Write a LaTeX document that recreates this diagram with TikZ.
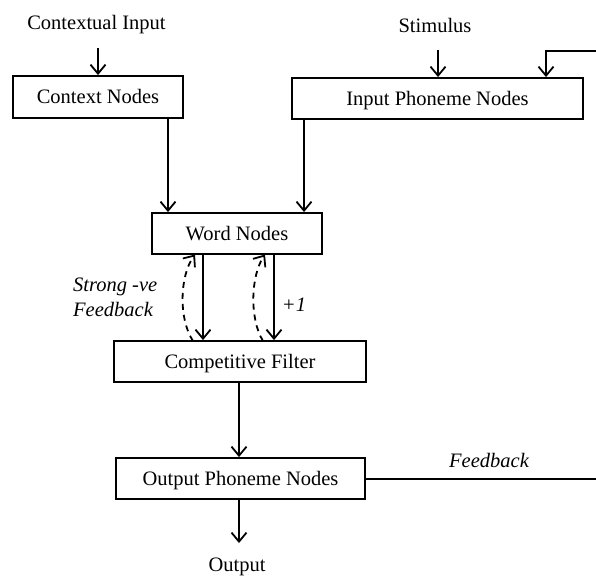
\documentclass[tikz,border=0pt]{standalone}
\usepackage{fontspec}
\setmainfont{Liberation Serif}
\usetikzlibrary{arrows.meta}
\begin{document}
\begin{tikzpicture}[x=1pt,y=-1pt,
  box/.style={draw, line width=1.9pt, inner sep=0pt, text height=14pt, text depth=1pt,
    font=\fontsize{20.5}{24}\selectfont},
  lbl/.style={inner sep=0pt, font=\fontsize{20.5}{25}\selectfont},
  ital/.style={inner sep=0pt, font=\fontsize{20.5}{25}\selectfont\itshape},
  arr/.style={line width=1.8pt, -{Straight Barb[length=9pt,width=15pt]}},
  fbarr/.style={arr, dash pattern=on 6pt off 5pt}]
\useasboundingbox (0,0) rectangle (596,576);
\clip (0,0) rectangle (596,576);

% boxes
\node[box, minimum width=170pt, minimum height=42pt] (ctx)  at (98,97)     {Context Nodes};
\node[box, minimum width=291pt, minimum height=41pt] (inp)  at (437.5,98.5) {Input Phoneme Nodes};
\node[box, minimum width=170pt, minimum height=41pt] (word) at (237,233.5) {Word Nodes};
\node[box, minimum width=252pt, minimum height=41pt] (filt) at (240,361.5) {Competitive Filter};
\node[box, minimum width=249pt, minimum height=41pt] (outp) at (240.5,478.5) {Output Phoneme Nodes};

% free texts
\node[lbl, anchor=base] (cin)  at (96.5,29) {Contextual Input};
\node[lbl, anchor=base] (stim) at (435,32)  {Stimulus};
\node[lbl, anchor=base] (out)  at (237,571) {Output};
\node[ital, anchor=west, align=left] (neg) at (73,297) {Strong -ve\\Feedback};
\node[ital] (plus) at (294,305) {+1};
\node[ital] (fbl)  at (489,460) {Feedback};

% helper coordinates for connector columns
\coordinate (xc) at (98,48);
\coordinate (xs) at (438,50);
\coordinate (x1) at (168,0);
\coordinate (x2) at (304,0);
\coordinate (x3) at (203,0);
\coordinate (x4) at (274,0);
\coordinate (x5) at (239,0);
\coordinate (x6) at (546,0);
\coordinate (xo) at (239,543);
\coordinate (ra) at (600,479);
\coordinate (rb) at (600,51);

% inputs
\draw[arr] (xc) -- (ctx.north -| xc);
\draw[arr] (xs) -- (inp.north -| xs);

% into word nodes
\draw[arr] (ctx.south -| x1) -- (word.north -| x1);
\draw[arr] (inp.south -| x2) -- (word.north -| x2);

% word nodes to competitive filter
\draw[arr] (word.south -| x3) -- (filt.north -| x3);
\draw[arr] (word.south -| x4) -- (filt.north -| x4);

% dashed feedback from the filter
\draw[fbarr] (193,341) .. controls (178,318) and (180,275) .. (195,254.5);
\draw[fbarr] (263,341) .. controls (249,318) and (251,275) .. (265,254.5);

% down to output
\draw[arr] (filt.south -| x5) -- (outp.north -| x5);
\draw[arr] (outp.south -| x5) -- (xo);

% feedback loop to the input phonemes
\draw[arr] (outp.east |- ra) -- (ra) -- (rb) -- (rb -| x6) -- (inp.north -| x6);
\end{tikzpicture}
\end{document}
